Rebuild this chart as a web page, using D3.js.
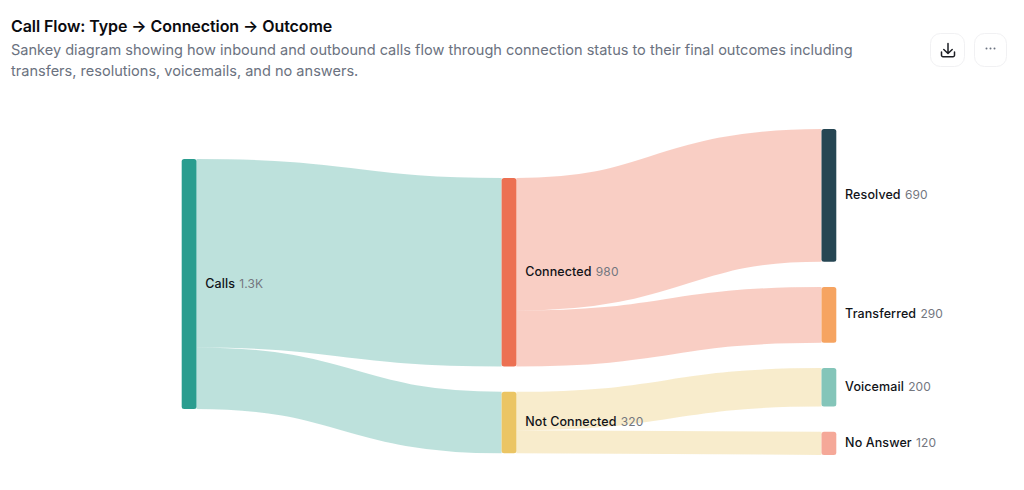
<!DOCTYPE html>
<html><head><meta charset="utf-8">
<script src="https://cdn.jsdelivr.net/npm/d3@7"></script>
<style>
html,body{margin:0;padding:0;background:#fff;overflow:hidden}
svg{display:block;font-family:Inter,"Noto Sans",sans-serif}
</style></head><body><svg id="c" width="1024" height="490"></svg>
<script>
const titleText = "Call Flow: Type → Connection → Outcome";
const subtitleLines = ["Sankey diagram showing how inbound and outbound calls flow through connection status to their final outcomes including","transfers, resolutions, voicemails, and no answers."];
const columns = [["Calls"],["Connected","Not Connected"],["Resolved","Transferred","Voicemail","No Answer"]];
const nodeValues = {"Calls":1300,"Connected":980,"Not Connected":320,"Resolved":690,"Transferred":290,"Voicemail":200,"No Answer":120};
const nodeLabels = {"Calls":"1.3K","Connected":"980","Not Connected":"320","Resolved":"690","Transferred":"290","Voicemail":"200","No Answer":"120"};
const nodeColors = {"Calls":"#2a9d8f","Connected":"#ec7052","Not Connected":"#ebc564","Resolved":"#264653","Transferred":"#f6a461","Voicemail":"#84c5b9","No Answer":"#f5a898"};
const linkOpacity = {"Calls":0.31,"Connected":0.34,"Not Connected":0.33};
const linkSources = ["Calls","Calls","Connected","Connected","Not Connected","Not Connected"];
const linkTargets = ["Connected","Not Connected","Resolved","Transferred","Voicemail","No Answer"];
const linkValues = [980,320,690,290,200,120];

const nodeWidth = 14.8, nodePad = 25.3;
const columnTops = [159,178,129];
const svg = d3.select("#c");
const x = d3.scalePoint().domain([0,1,2]).range([181.7,821.5]);
const h = d3.scaleLinear().domain([0,1300]).range([0,250]);

const nodes = {};
columns.forEach((names,c)=>{
  let y = columnTops[c];
  names.forEach(n=>{
    nodes[n] = {name:n,x0:x(c),x1:x(c)+nodeWidth,y0:y,y1:y+h(nodeValues[n]),outY:y,inY:y};
    y = nodes[n].y1 + nodePad;
  });
});
const links = linkValues.map((v,i)=>{
  const s=nodes[linkSources[i]], t=nodes[linkTargets[i]], w=h(v);
  const l={source:[s.x1,s.outY+w/2],target:[t.x0,t.inY+w/2],w,color:nodeColors[s.name],op:linkOpacity[s.name]};
  s.outY+=w; t.inY+=w; return l;
});
const lg = d3.linkHorizontal();
svg.append("g").attr("fill","none").selectAll("path").data(links).join("path")
  .attr("d",d=>lg({source:d.source,target:d.target}))
  .attr("stroke",d=>d.color).attr("stroke-opacity",d=>d.op).attr("stroke-width",d=>d.w);

const ns = Object.values(nodes);
svg.append("g").selectAll("rect").data(ns).join("rect")
  .attr("x",d=>d.x0).attr("y",d=>d.y0).attr("width",d=>d.x1-d.x0).attr("height",d=>d.y1-d.y0)
  .attr("rx",2.5).attr("fill",d=>nodeColors[d.name]);
const lab = svg.append("g").selectAll("text").data(ns).join("text")
  .attr("x",d=>d.x1+8.8).attr("y",d=>(d.y0+d.y1)/2+3.5).attr("font-size",12.5).attr("letter-spacing",0.1);
lab.append("tspan").attr("font-weight",500).attr("fill","#111318").text(d=>d.name);
lab.append("tspan").attr("dx",4.2).attr("font-size",12).attr("fill","#74777f").text(d=>nodeLabels[d.name]);

svg.append("text").attr("x",11).attr("y",32).attr("font-size",16).attr("font-weight",600).attr("fill","#0b0b0f").attr("letter-spacing",-0.07).text(titleText);
svg.append("g").selectAll("text").data(subtitleLines).join("text")
  .attr("x",11).attr("y",(d,i)=>55+i*21).attr("font-size",14.55).attr("fill","#6b7280").text(d=>d);

const bg = svg.append("g");
[[930,35],[974,33]].forEach(([bx,bw])=>{
  bg.append("rect").attr("x",bx+.5).attr("y",33.5).attr("width",bw-1).attr("height",33).attr("rx",10).attr("fill","#fff").attr("stroke","#f1f1f3");
});
bg.append("path").attr("fill","none").attr("stroke","#1d1f24").attr("stroke-width",1.5).attr("stroke-linecap","round").attr("stroke-linejoin","round")
  .attr("d","M948 43.5v9.5M943.8 49.5l4.2 4 4.2-4M941.5 52v3.2a1.5 1.5 0 0 0 1.5 1.5h10a1.5 1.5 0 0 0 1.5-1.5V52");
bg.append("g").attr("fill","#6b7280").selectAll("circle").data([-4,0,4]).join("circle")
  .attr("cx",d=>990.5+d).attr("cy",48.5).attr("r",1);
</script></body></html>
